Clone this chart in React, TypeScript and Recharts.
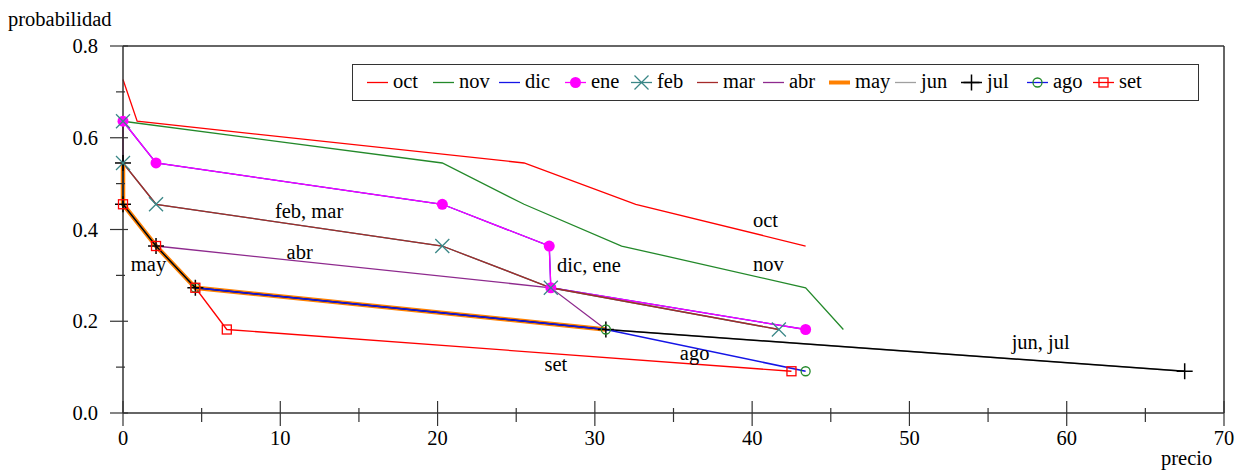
import { Legend, Line, LineChart, ReferenceDot, ReferenceLine, XAxis, YAxis } from "recharts";

const FONT = '"Liberation Serif", serif';
const FS = 20.5;
const AXIS = "#333";

// precio (x) and probabilidad (y) per month
const octPrecio = [0, 0.9, 25.5, 32.6, 43.4];
const octProb = [0.727, 0.636, 0.545, 0.455, 0.364];
const novPrecio = [0, 20.3, 25.5, 31.7, 43.4, 45.8];
const novProb = [0.636, 0.545, 0.455, 0.364, 0.273, 0.182];
const enePrecio = [0, 2.1, 20.3, 27.1, 27.2, 43.4];
const eneProb = [0.636, 0.545, 0.455, 0.364, 0.273, 0.182];
const dicPrecio = [0, 2.1, 20.3, 27.1, 27.2, 43.4];
const dicProb = [0.636, 0.545, 0.455, 0.364, 0.273, 0.182];
const febPrecio = [0, 0, 2.1, 20.3, 27.2, 41.7];
const febProb = [0.636, 0.545, 0.455, 0.364, 0.273, 0.182];
const marPrecio = [0, 0, 2.1, 20.3, 27.2, 41.7];
const marProb = [0.636, 0.545, 0.455, 0.364, 0.273, 0.182];
const abrPrecio = [0, 0, 0, 2.1, 27.2, 30.7];
const abrProb = [0.636, 0.545, 0.455, 0.364, 0.273, 0.182];
const mayPrecio = [0, 0, 2.1, 4.6, 30.7];
const mayProb = [0.545, 0.455, 0.364, 0.273, 0.182];
const junPrecio = [0, 0, 2.1, 4.6, 30.7, 67.5];
const junProb = [0.545, 0.455, 0.364, 0.273, 0.182, 0.091];
const julPrecio = [0, 0, 2.1, 4.6, 30.7, 67.5];
const julProb = [0.545, 0.455, 0.364, 0.273, 0.182, 0.091];
const agoPrecio = [4.6, 30.7, 43.4];
const agoProb = [0.273, 0.182, 0.091];
const setPrecio = [0, 2.1, 4.6, 6.6, 42.5];
const setProb = [0.455, 0.364, 0.273, 0.182, 0.091];

const xTicks = [0, 5, 10, 15, 20, 25, 30, 35, 40, 45, 50, 55, 60, 65, 70];
const yTicks = [0, 0.1, 0.2, 0.3, 0.4, 0.5, 0.6, 0.7, 0.8];

const labelTexts = ["oct", "nov", "feb, mar", "abr", "may", "dic, ene", "ago", "set", "jun, jul"];
const labelPrecio = [40.05, 40.05, 9.66, 10.4, 0.5, 27.6, 35.4, 26.8, 56.5];
const labelProb = [0.421, 0.325, 0.44, 0.351, 0.325, 0.3225, 0.131, 0.107, 0.155];

const pts = (xs: number[], ys: number[]) => xs.map((x, i) => ({ x, y: ys[i] }));

const RED = "#ff0000";
const GREEN = "#23892a";
const BLUE = "#1515e6";
const MAGENTA = "#ff00ff";
const TEAL = "#3a8787";
const BROWN = "#a52a2a";
const PURPLE = "#8e2a8e";
const ORANGE = "#ff8000";
const GRAY = "#a0a0a0";

type Mk = "circle" | "x" | "plus" | "ring" | "square" | null;

function marker(kind: Mk, cx: number, cy: number, key?: any) {
  if (kind === "circle") return <circle key={key} cx={cx} cy={cy} r={5.5} fill={MAGENTA} />;
  if (kind === "x")
    return (
      <g key={key} stroke={TEAL} strokeWidth={1.3}>
        <line x1={cx - 7} y1={cy - 7} x2={cx + 7} y2={cy + 7} />
        <line x1={cx - 7} y1={cy + 7} x2={cx + 7} y2={cy - 7} />
      </g>
    );
  if (kind === "plus")
    return (
      <g key={key} stroke="#000" strokeWidth={1.5}>
        <line x1={cx - 8} y1={cy} x2={cx + 8} y2={cy} />
        <line x1={cx} y1={cy - 8} x2={cx} y2={cy + 8} />
      </g>
    );
  if (kind === "ring") return <circle key={key} cx={cx} cy={cy} r={4.5} fill="none" stroke={GREEN} strokeWidth={1.3} />;
  if (kind === "square")
    return <rect key={key} x={cx - 4.5} y={cy - 4.5} width={9} height={9} fill="none" stroke={RED} strokeWidth={1.3} />;
  return null;
}

const dotOf = (kind: Mk) => (p: any) => {
  if (p.cx == null || p.cy == null) return <g key={p.index} />;
  return marker(kind, p.cx, p.cy, p.index);
};

const legendItems: { name: string; color: string; w: number; mk: Mk }[] = [
  { name: "oct", color: RED, w: 1.3, mk: null },
  { name: "nov", color: GREEN, w: 1.3, mk: null },
  { name: "dic", color: BLUE, w: 1.3, mk: null },
  { name: "ene", color: MAGENTA, w: 1.3, mk: "circle" },
  { name: "feb", color: TEAL, w: 1.3, mk: "x" },
  { name: "mar", color: BROWN, w: 1.3, mk: null },
  { name: "abr", color: PURPLE, w: 1.3, mk: null },
  { name: "may", color: ORANGE, w: 4, mk: null },
  { name: "jun", color: GRAY, w: 1.3, mk: null },
  { name: "jul", color: "#000", w: 1.5, mk: "plus" },
  { name: "ago", color: BLUE, w: 1.3, mk: "ring" },
  { name: "set", color: RED, w: 1.3, mk: "square" },
];

function LegendBox() {
  return (
    <div
      style={{
        width: 847,
        height: 37,
        boxSizing: "border-box",
        border: `1.5px solid ${AXIS}`,
        background: "#fff",
        position: "relative",
        fontFamily: FONT,
        fontSize: FS,
      }}
    >
      {legendItems.map((it, i) => (
        <div key={it.name} style={{ position: "absolute", left: 14 + i * 66, top: 0, height: 34, width: 66 }}>
          <svg width={22} height={34} style={{ position: "absolute", left: 0, top: 0, overflow: "visible" }}>
            <line x1={0} x2={21} y1={17.5} y2={17.5} stroke={it.color} strokeWidth={it.w} />
            {marker(it.mk, 10.5, 17.5)}
          </svg>
          <span style={{ position: "absolute", left: 26, top: 6, lineHeight: "20px", whiteSpace: "nowrap" }}>{it.name}</span>
        </div>
      ))}
    </div>
  );
}

function XTick(props: any) {
  const { x, y, payload } = props;
  const major = payload.value % 10 === 0;
  return (
    <g>
      <line x1={x} x2={x} y1={y - (major ? 12 : 5)} y2={y + (major ? 13 : 9)} stroke={AXIS} strokeWidth={1.2} />
      {major && (
        <text x={x} y={y + 32} textAnchor="middle" fontFamily={FONT} fontSize={FS} fill="#000">
          {payload.value}
        </text>
      )}
    </g>
  );
}

function YTick(props: any) {
  const { x, y, payload } = props;
  const major = Math.round(payload.value * 10) % 2 === 0;
  return (
    <g>
      <line x1={x - (major ? 13 : 7)} x2={x + (major ? 5 : 2)} y1={y} y2={y} stroke={AXIS} strokeWidth={1.2} />
      {major && (
        <text x={x - 25} y={y + 7} textAnchor="end" fontFamily={FONT} fontSize={FS} fill="#000">
          {payload.value.toFixed(1)}
        </text>
      )}
    </g>
  );
}

const labelShape = (text: string) => (p: any) => (
  <text x={p.cx} y={p.cy + 7} fontFamily={FONT} fontSize={FS} fill="#000">
    {text}
  </text>
);

export default function App() {
  return (
    <div style={{ position: "relative", width: 1242, height: 470, background: "#fff" }}>
      <style>{"body{margin:0}"}</style>
      <LineChart width={1242} height={470} margin={{ top: 46, right: 18, bottom: 27, left: 63 }}>
        <XAxis
          dataKey="x"
          type="number"
          domain={[0, 70]}
          ticks={xTicks}
          interval={0}
          height={30}
          tick={XTick}
          tickLine={false}
          tickSize={0}
          tickMargin={0}
          axisLine={{ stroke: AXIS, strokeWidth: 1.5 }}
        />
        <YAxis
          dataKey="y"
          type="number"
          domain={[0, 0.8]}
          ticks={yTicks}
          interval={0}
          width={60}
          tick={YTick}
          tickLine={false}
          tickSize={0}
          tickMargin={0}
          axisLine={{ stroke: AXIS, strokeWidth: 1.5 }}
        />
        <ReferenceLine y={0.8} stroke={AXIS} strokeWidth={1.5} />
        <ReferenceLine x={70} stroke={AXIS} strokeWidth={1.5} />
        <Legend verticalAlign="middle" align="center" layout="horizontal" wrapperStyle={{ left: 352, top: 64, width: 847, height: 37 }} content={() => <LegendBox />} />

        <Line data={pts(octPrecio, octProb)} dataKey="y" name="oct" stroke={RED} strokeWidth={1.3} dot={false} isAnimationActive={false} />
        <Line data={pts(novPrecio, novProb)} dataKey="y" name="nov" stroke={GREEN} strokeWidth={1.3} dot={false} isAnimationActive={false} />
        <Line data={pts(dicPrecio, dicProb)} dataKey="y" name="dic" stroke={BLUE} strokeWidth={1.3} dot={false} isAnimationActive={false} />
        <Line data={pts(enePrecio, eneProb)} dataKey="y" name="ene" stroke={MAGENTA} strokeWidth={1.3} dot={dotOf("circle")} isAnimationActive={false} />
        <Line data={pts(febPrecio, febProb)} dataKey="y" name="feb" stroke={TEAL} strokeWidth={1.3} dot={false} isAnimationActive={false} />
        <Line data={pts(marPrecio, marProb)} dataKey="y" name="mar" stroke={BROWN} strokeWidth={1.3} dot={false} isAnimationActive={false} />
        <Line data={pts(abrPrecio, abrProb)} dataKey="y" name="abr" stroke={PURPLE} strokeWidth={1.3} dot={false} isAnimationActive={false} />
        <Line data={pts(setPrecio, setProb)} dataKey="y" name="set" stroke={RED} strokeWidth={1.3} dot={false} isAnimationActive={false} />
        <Line data={pts(mayPrecio, mayProb)} dataKey="y" name="may" stroke={ORANGE} strokeWidth={4.5} dot={false} isAnimationActive={false} />
        <Line data={pts(junPrecio, junProb)} dataKey="y" name="jun" stroke={GRAY} strokeWidth={1.3} dot={false} isAnimationActive={false} />
        <Line data={pts(julPrecio, julProb)} dataKey="y" name="jul" stroke="#000" strokeWidth={1.5} dot={dotOf("plus")} isAnimationActive={false} />
        <Line data={pts(agoPrecio, agoProb)} dataKey="y" name="ago" stroke={BLUE} strokeWidth={1.5} dot={dotOf("ring")} isAnimationActive={false} />
        <Line data={pts(febPrecio, febProb)} dataKey="y" name="feb-pts" stroke="none" dot={dotOf("x")} isAnimationActive={false} />
        <Line data={pts(setPrecio, setProb)} dataKey="y" name="set-pts" stroke="none" dot={dotOf("square")} isAnimationActive={false} />

        {labelTexts.map((t, i) => (
          <ReferenceDot key={t} x={labelPrecio[i]} y={labelProb[i]} r={0} shape={labelShape(t)} />
        ))}
      </LineChart>
      <svg width={1242} height={470} style={{ position: "absolute", left: 0, top: 0, pointerEvents: "none" }}>
        <text x={8} y={26} fontFamily={FONT} fontSize={FS} fill="#000">
          probabilidad
        </text>
        <text x={1161} y={465} fontFamily={FONT} fontSize={FS} fill="#000">
          precio
        </text>
      </svg>
    </div>
  );
}
